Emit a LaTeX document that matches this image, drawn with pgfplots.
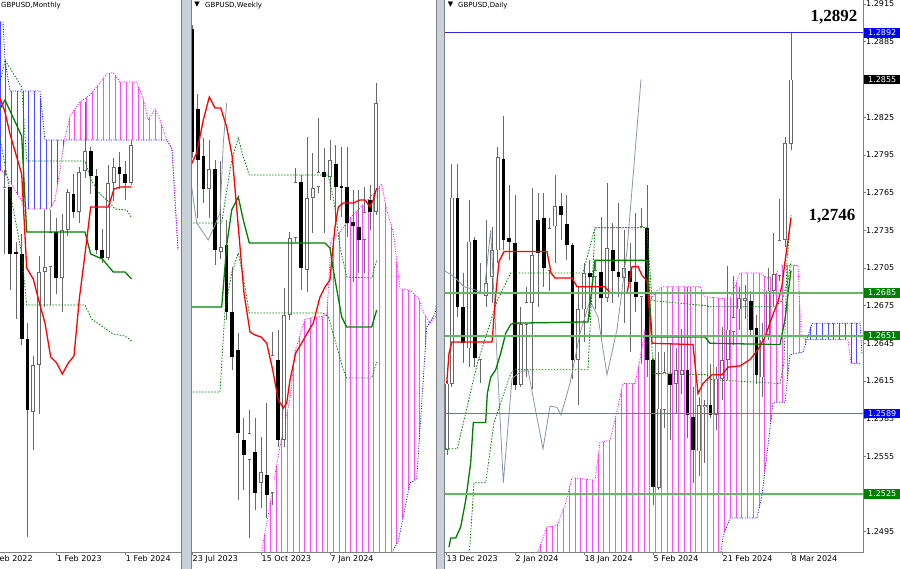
\documentclass[border=0pt]{standalone}
\usepackage{fontspec}
\setmainfont{DejaVu Sans}
\newfontfamily\timesfont{Liberation Serif}
\usepackage{pgfplots}
\pgfplotsset{compat=1.18}
\usepackage{pgfplotstable}
\usetikzlibrary{patterns.meta}

\definecolor{tenkan}{RGB}{255,0,0}
\definecolor{kijun}{RGB}{0,128,0}
\definecolor{chikou}{RGB}{138,150,168}
\definecolor{spanA}{RGB}{255,0,255}
\definecolor{spanB}{RGB}{0,0,255}
\definecolor{lvlgreen}{RGB}{100,185,100}
\definecolor{lvlblue}{RGB}{105,105,255}
\definecolor{hiline}{RGB}{40,40,215}
\definecolor{wickc}{RGB}{105,105,105}
\definecolor{gapcol}{RGB}{200,208,218}
\definecolor{framec}{RGB}{128,128,128}
\definecolor{boxgreen}{RGB}{0,128,0}
\definecolor{boxblue}{RGB}{0,0,255}

\newcommand\lbl{\fontsize{8}{9}\selectfont}
\newcommand\ttl{\fontsize{7}{8}\selectfont}

% monthly / weekly panels have no price scale: levels are in chart rows (0 = top)
\pgfplotstableread{
x o h l c
4.5 189 170 254 187
33.25 412 356 450 365
39 365 256 414 272
44.75 272 210 307 267
50.5 267 210 305 232
62 278 214 312 230
67.75 230 189 236 192
79.25 212 167 223 172
85 171 102 178 151
108 258 165 260 183
113.75 183 158 201 167
131 183 140 185 145
}\mbull
\pgfplotstableread{
x o h l c
10.25 187 187 290 254
16 252 242 319 254
21.75 254 234 345 339
27.5 339 323 537 410
56.25 232 218 294 278
73.5 194 174 218 212
90.75 151 147 194 176
96.5 176 169 254 250
102.25 250 229 263 258
119.5 167 152 189 174
125.25 174 161 200 183
}\mbear
\pgfplotstableread{
x o h l c
209.25 189 140 218 169
220.75 252 161 259 247
249.5 460 410 538 433
261 483 437 508 472
272.5 493 332 505 355
284 440 288 447 315
289.75 315 232 320 238
295.5 238 168 242 182
307 270 137 292 198
312.75 198 153 233 188
318.5 187 118 193 172
330 177 140 200 160
364.5 240 187 273 212
376 212 83 215 103
}\wbull
\pgfplotstableread{
x o h l c
192 29 25 158 152
197.75 109 94 218 160
203.5 156 138 203 189
215 169 160 265 250
226.5 245 220 320 312
232.25 312 267 370 357
238 350 333 500 433
243.75 440 418 490 455
255.25 452 418 510 493
266.75 475 403 518 495
278.25 360 330 447 440
301.25 182 175 290 268
324.25 172 148 233 177
335.75 164 145 227 187
341.5 186 147 217 187
347.25 187 147 237 223
353 222 190 282 226
358.75 227 190 273 240
370.25 200 185 230 212
}\wbear
% daily panel in GBPUSD prices
\pgfplotstableread{
x o h l c
447 1.2560 1.2616 1.2556 1.2613
451.75 1.2613 1.2788 1.2610 1.2761
469 1.2641 1.2759 1.2626 1.2726
480.5 1.2632 1.2709 1.2613 1.2685
486.25 1.2683 1.2743 1.2674 1.2693
492 1.2698 1.2738 1.2677 1.2719
497.75 1.2719 1.2801 1.2709 1.2793
520.75 1.2612 1.2674 1.2610 1.2660
526.5 1.2660 1.2690 1.2618 1.2678
532.25 1.2677 1.2769 1.2609 1.2715
549.5 1.2703 1.2745 1.2687 1.2737
555.25 1.2738 1.2779 1.2709 1.2754
578.25 1.2632 1.2691 1.2596 1.2672
584 1.2672 1.2709 1.2646 1.2701
595.5 1.2698 1.2710 1.2672 1.2703
607 1.2681 1.2773 1.2678 1.2721
624.25 1.2697 1.2735 1.2661 1.2705
641.5 1.2682 1.2753 1.2629 1.2738
658.75 1.2530 1.2638 1.2528 1.2593
664.5 1.2592 1.2638 1.2578 1.2622
676 1.2613 1.2641 1.2590 1.2624
681.75 1.2620 1.2656 1.2605 1.2624
699 1.2559 1.2602 1.2539 1.2596
704.75 1.2594 1.2600 1.2550 1.2596
716.25 1.2588 1.2626 1.2576 1.2617
722 1.2617 1.2658 1.2600 1.2632
727.75 1.2632 1.2707 1.2616 1.2656
733.5 1.2654 1.2699 1.2644 1.2666
739.25 1.2672 1.2690 1.2656 1.2681
745 1.2679 1.2691 1.2664 1.2681
762.25 1.2618 1.2661 1.2602 1.2648
768 1.2652 1.2705 1.2648 1.2687
773.75 1.2687 1.2733 1.2675 1.2700
779.5 1.2699 1.2760 1.2695 1.2727
785.25 1.2727 1.2809 1.2722 1.2804
791 1.2804 1.2892 1.2799 1.2855
}\dbull
\pgfplotstableread{
x o h l c
443.5 1.2560 1.2564 1.2483 1.2502
457.5 1.2761 1.2788 1.2666 1.2674
463.25 1.2674 1.2701 1.2629 1.2645
474.75 1.2727 1.2730 1.2626 1.2633
503.5 1.2792 1.2826 1.2719 1.2727
509.25 1.2729 1.2771 1.2711 1.2726
515 1.2725 1.2763 1.2608 1.2612
538 1.2743 1.2765 1.2674 1.2717
543.75 1.2745 1.2765 1.2690 1.2705
561 1.2754 1.2765 1.2727 1.2747
566.75 1.2740 1.2763 1.2711 1.2723
572.5 1.2723 1.2725 1.2617 1.2632
589.75 1.2701 1.2711 1.2666 1.2698
601.25 1.2702 1.2746 1.2649 1.2681
612.75 1.2719 1.2741 1.2677 1.2703
618.5 1.2702 1.2757 1.2682 1.2698
630 1.2703 1.2725 1.2638 1.2694
635.75 1.2694 1.2749 1.2670 1.2682
647.25 1.2737 1.2771 1.2618 1.2632
653 1.2632 1.2633 1.2516 1.2531
670.25 1.2621 1.2645 1.2568 1.2612
687.5 1.2624 1.2690 1.2570 1.2588
693.25 1.2586 1.2610 1.2534 1.2560
710.5 1.2596 1.2629 1.2586 1.2588
750.75 1.2679 1.2687 1.2652 1.2656
756.5 1.2657 1.2668 1.2613 1.2620
}\dbear

\pgfplotsset{
  panel/.style={scale only axis, axis line style={draw=none},
    tick pos=left, tick align=outside, major tick length=2.5pt,
    xtick style={draw=framec, line width=0.6pt},
    xticklabel style={font=\lbl, anchor=north west, inner sep=0pt, xshift=0.5pt, yshift=-0.5pt},
    ytick=\empty},
  wicks/.style={draw=none, mark=none, forget plot, error bars/.cd, y dir=both, y explicit,
    error mark=none, error bar style={draw=wickc, line width=0.9pt}},
  bodyblack/.style={draw=none, mark=none, forget plot, error bars/.cd, y dir=both, y explicit,
    error mark=none, error bar style={draw=black, line width=3.6pt}},
  bodyedge/.style={draw=none, mark=none, forget plot, error bars/.cd, y dir=both, y explicit,
    error mark=none, error bar style={draw=wickc, line width=3.8pt}},
  bodywhite/.style={draw=none, mark=none, forget plot, error bars/.cd, y dir=both, y explicit,
    error mark=none, error bar style={draw=white, line width=2.2pt}},
  tenkanline/.style={tenkan, line width=1.3pt, mark=none, forget plot},
  kijunline/.style={kijun, line width=1.3pt, mark=none, forget plot},
  chikouline/.style={chikou, line width=0.8pt, mark=none, forget plot},
  dotline/.style={kijun, line width=0.8pt, dash pattern=on 1.5pt off 1.5pt, mark=none, forget plot},
  spanAline/.style={spanA, line width=0.8pt, dash pattern=on 1pt off 1.5pt, mark=none, forget plot},
  spanBline/.style={spanB, line width=0.8pt, dash pattern=on 1pt off 1.5pt, mark=none, forget plot},
  cloudA/.style={draw=none, forget plot, pattern={Lines[angle=90,distance=5.75pt,line width=0.9pt]}, pattern color=spanA!70},
  cloudB/.style={draw=none, forget plot, pattern={Lines[angle=90,distance=5.75pt,line width=0.9pt]}, pattern color=spanB!70},
}

\begin{document}
\begin{tikzpicture}
\path[use as bounding box] (0,0) rectangle (900pt,-569pt);
\clip (0,0) rectangle (900pt,-569pt);
\fill[white] (0,0) rectangle (900pt,-569pt);
\fill[gapcol] (181pt,0) rectangle (191pt,-569pt);
\fill[gapcol] (436pt,0) rectangle (444pt,-569pt);

% ---------------- monthly ----------------
\begin{axis}[panel, at={(0pt,0pt)}, anchor=north west, width=181pt, height=552pt,
  xmin=0, xmax=181, ymin=0, ymax=552, y dir=reverse,
  xtick={56.25,125.25}, xticklabels={1 Feb 2023,1 Feb 2024}]
\addplot[cloudB] coordinates {(0,22) (3,22) (5,60) (10,91) (40,91) (45,140) (64.5,140) (60,170) (55,200) (50,209) (26.7,209) (5,174) (0,170)} -- cycle;
\addplot[cloudA] coordinates {(64.5,140) (70,116) (80,102) (90,95) (100,83) (106.7,74) (113,72.6) (120,82) (136.7,82) (143,98) (148,120) (155,109) (160,120) (166.7,140)} -- cycle;
\addplot[spanBline] coordinates {(0,22) (3,22) (5,60) (10,91) (40,91) (45,140) (167,140) (172,149) (178,250)};
\addplot[spanAline] coordinates {(0,170) (5,174) (26.7,209) (50,209) (55,200) (60,170) (64.5,140) (70,116) (80,102) (90,95) (100,83) (106.7,74) (113,72.6) (120,82) (136.7,82) (143,98) (148,120) (155,109) (160,120) (166.7,140) (172,149) (178,250)};
\addplot[wicks] table[x=x, y expr=(\thisrow{h}+\thisrow{l})/2, y error expr={abs(\thisrow{h}-\thisrow{l})/2}] {\mbull};
\addplot[wicks] table[x=x, y expr=(\thisrow{h}+\thisrow{l})/2, y error expr={abs(\thisrow{h}-\thisrow{l})/2}] {\mbear};
\addplot[bodyblack] table[x=x, y expr=(\thisrow{o}+\thisrow{c})/2, y error expr={max(abs(\thisrow{o}-\thisrow{c})/2,0.5)}] {\mbear};
\addplot[bodyedge] table[x=x, y expr=(\thisrow{o}+\thisrow{c})/2, y error expr={max(abs(\thisrow{o}-\thisrow{c})/2,0.5)}] {\mbull};
\addplot[bodywhite] table[x=x, y expr=(\thisrow{o}+\thisrow{c})/2, y error expr={max(abs(\thisrow{o}-\thisrow{c})/2-0.8,0)}] {\mbull};
\addplot[dotline] coordinates {(0,83) (5,60) (21.7,87) (26.7,161) (85,161) (91,180) (100,194) (110,203) (115,209) (126.7,210) (131.7,218)};
\addplot[dotline] coordinates {(0,138) (21.7,254) (26.7,305) (85,305) (91.7,319) (103,327) (113,334) (125,336) (131.7,341)};
\addplot[kijunline] coordinates {(0,109) (5,100) (21.7,136) (26.7,232) (85,232) (90.7,254) (102.3,259) (113.3,272) (125,272) (131.7,279)};
\addplot[tenkanline] coordinates {(0,98) (5,112) (10,134) (21.7,174) (26.7,268) (33.3,279) (40,305) (45,323) (50.7,357) (56.7,363) (62.3,374) (68.3,363) (74,356) (79.3,299) (85,254) (90.7,207) (108.3,207) (114,189) (120,187) (131.7,187)};
\end{axis}

% ---------------- weekly ----------------
\begin{axis}[panel, at={(191pt,0pt)}, anchor=north west, width=245pt, height=552pt,
  xmin=191, xmax=436, ymin=0, ymax=552, y dir=reverse,
  xtick={192,261,330}, xticklabels={23 Jul 2023,15 Oct 2023,7 Jan 2024}]
\addplot[cloudA] coordinates {(258,560) (261.7,551.5) (270,504) (280,446) (290,399) (295,352) (305,319) (323.3,316) (327,314) (331,240) (340,232) (350,218) (366.7,201) (376.7,190) (381.7,184) (386.7,210) (393.3,232) (400,289) (410,290) (418.3,298) (423.3,312) (430,323) (435,314) (426.7,327) (416.7,479) (410,483) (398.3,541) (393.3,550) (391,560)} -- cycle;
\addplot[spanAline] coordinates {(258,560) (261.7,551.5) (270,504) (280,446) (290,399) (295,352) (305,319) (323.3,316) (327,314) (331,240) (340,232) (350,218) (366.7,201) (376.7,190) (381.7,184) (386.7,210) (393.3,232) (400,289) (410,290) (418.3,298) (423.3,312) (430,323) (436,316)};
\addplot[spanBline] coordinates {(391,560) (393.3,550) (398.3,541) (410,483) (416.7,479) (426.7,327) (435,314) (437,300)};
\addplot[wicks] table[x=x, y expr=(\thisrow{h}+\thisrow{l})/2, y error expr={abs(\thisrow{h}-\thisrow{l})/2}] {\wbull};
\addplot[wicks] table[x=x, y expr=(\thisrow{h}+\thisrow{l})/2, y error expr={abs(\thisrow{h}-\thisrow{l})/2}] {\wbear};
\addplot[bodyblack] table[x=x, y expr=(\thisrow{o}+\thisrow{c})/2, y error expr={max(abs(\thisrow{o}-\thisrow{c})/2,0.5)}] {\wbear};
\addplot[bodyedge] table[x=x, y expr=(\thisrow{o}+\thisrow{c})/2, y error expr={max(abs(\thisrow{o}-\thisrow{c})/2,0.5)}] {\wbull};
\addplot[bodywhite] table[x=x, y expr=(\thisrow{o}+\thisrow{c})/2, y error expr={max(abs(\thisrow{o}-\thisrow{c})/2-0.8,0)}] {\wbull};
\addplot[chikouline] coordinates {(191.7,187) (196.7,223) (208.3,240) (215,225) (220,213) (223.3,143) (226.7,103)};
\addplot[dotline] coordinates {(190,223) (221.7,223) (226,195) (231.7,160) (238.3,138) (243.3,157) (249.3,175) (328,175) (333.3,197) (340,247) (346.7,277) (371.7,278) (376.7,260)};
\addplot[dotline] coordinates {(190,392) (220,392) (225,310) (231.7,273) (238.3,253) (243.3,277) (249.3,313) (323,313) (328.3,317) (335,340) (343.3,370) (346.7,378) (371.7,378) (376.7,362)};
\addplot[kijunline] coordinates {(190,307) (221.7,307) (226.7,245) (231.7,210) (238.3,197) (243.3,220) (249.3,243) (325,243) (330,248) (333.3,270) (341.7,317) (346.7,327) (371.7,327) (376.7,310)};
\addplot[tenkanline] coordinates {(190,167) (196.7,153) (203.3,120) (209.3,97) (215,108) (220.7,108) (226.7,127) (232.3,157) (238.3,227) (244,293) (250,332) (255,335) (261,337) (266.7,343) (272.7,370) (278.3,400) (283.3,408) (286.7,403) (290,380) (295.7,353) (301.7,343) (307.3,333) (313.3,323) (320,297) (325,287) (330,280) (331.7,260) (335,227) (338.3,207) (343.3,203) (353.3,203) (360,200) (365,200) (370,207) (373.3,200) (376.7,188)};
\end{axis}

% ---------------- daily ----------------
\begin{axis}[panel, at={(444pt,0pt)}, anchor=north west, width=419pt, height=552pt,
  xmin=444, xmax=863, ymin=1.24789, ymax=1.29182,
  xtick={446,515,584,653,722,791},
  xticklabels={13 Dec 2023,2 Jan 2024,18 Jan 2024,5 Feb 2024,21 Feb 2024,8 Mar 2024},
  ytick={1.2495,1.2525,1.2555,1.2585,1.2615,1.2645,1.2675,1.2705,1.2735,1.2765,1.2795,1.2825,1.2855,1.2885,1.2915},
  yticklabels={1.2495,,1.2555,1.2585,1.2615,1.2645,1.2675,1.2705,1.2735,1.2765,1.2795,1.2825,,1.2885,1.2915},
  ytick pos=right, yticklabel pos=right, ytick style={draw=framec, line width=0.6pt},
  yticklabel style={font=\lbl, anchor=west, inner sep=0pt, xshift=0.5pt}]
\addplot[cloudA] coordinates {(536,1.2473) (538,1.2479) (547,1.2499) (557,1.2500) (565,1.2516) (572,1.2538) (595,1.2536) (600,1.2566) (610,1.2568) (615,1.2584) (623,1.2613) (635,1.2613) (640,1.2632) (645,1.2656) (650,1.2679) (657,1.2687) (663,1.2690) (700,1.2690) (705,1.2682) (730,1.2680) (740,1.2701) (760,1.2701) (767,1.2697) (775,1.2699) (782,1.2707) (798,1.2707) (801,1.2652) (806.5,1.2648) (803,1.2638) (790,1.2636) (785,1.2598) (773,1.2598) (767,1.2557) (762,1.2524) (757,1.2506) (730,1.2506) (723,1.2491) (720,1.2473)} -- cycle;
\addplot[cloudB] coordinates {(806.5,1.2648) (812,1.2661) (860,1.2661) (862,1.2636) (861,1.2629) (851,1.2629) (848,1.2648)} -- cycle;
\addplot[spanAline] coordinates {(536,1.2473) (538,1.2479) (547,1.2499) (557,1.2500) (565,1.2516) (572,1.2538) (595,1.2536) (600,1.2566) (610,1.2568) (615,1.2584) (623,1.2613) (635,1.2613) (640,1.2632) (645,1.2656) (650,1.2679) (657,1.2687) (663,1.2690) (700,1.2690) (705,1.2682) (730,1.2680) (740,1.2701) (760,1.2701) (767,1.2697) (775,1.2699) (782,1.2707) (798,1.2707) (801,1.2652) (805,1.2648) (848,1.2648) (851,1.2629) (861,1.2629)};
\addplot[spanBline] coordinates {(720,1.2473) (723,1.2491) (730,1.2506) (757,1.2506) (762,1.2524) (767,1.2557) (773,1.2598) (785,1.2598) (790,1.2636) (803,1.2638) (812,1.2661) (860,1.2661) (862,1.2636)};
\addplot[wicks] table[x=x, y expr=(\thisrow{h}+\thisrow{l})/2, y error expr={abs(\thisrow{h}-\thisrow{l})/2}] {\dbull};
\addplot[wicks] table[x=x, y expr=(\thisrow{h}+\thisrow{l})/2, y error expr={abs(\thisrow{h}-\thisrow{l})/2}] {\dbear};
\addplot[bodyblack] table[x=x, y expr=(\thisrow{o}+\thisrow{c})/2, y error expr={max(abs(\thisrow{o}-\thisrow{c})/2,0.00004)}] {\dbear};
\addplot[bodyedge] table[x=x, y expr=(\thisrow{o}+\thisrow{c})/2, y error expr={max(abs(\thisrow{o}-\thisrow{c})/2,0.00004)}] {\dbull};
\addplot[bodywhite] table[x=x, y expr=(\thisrow{o}+\thisrow{c})/2, y error expr={max(abs(\thisrow{o}-\thisrow{c})/2-0.000064,0)}] {\dbull};
\addplot[chikouline] coordinates {(444,1.2703) (454,1.2698) (464,1.2690) (477,1.2687) (484,1.2685) (490.7,1.2735) (503.3,1.2534) (512,1.2617) (520,1.2622) (528,1.2624) (535,1.2594) (543,1.2561) (550,1.2595) (557,1.2594) (561,1.2588) (570,1.2613) (580,1.2653) (590,1.2679) (598,1.2666) (607,1.2620) (617,1.2656) (627,1.2719) (641,1.2855)};
\addplot[dotline] coordinates {(445.7,1.2561) (457.3,1.2561) (477.3,1.2629) (497.3,1.2679) (510.7,1.2701) (583,1.2701) (595,1.2737) (647,1.2737) (653,1.2621) (707,1.2620) (712,1.2616) (780,1.2613) (784,1.2629) (787,1.2711) (791,1.2747)};
\addplot[dotline] coordinates {(469,1.2473) (474,1.2534) (485.7,1.2534) (494,1.2582) (510.7,1.2621) (514,1.2624) (588,1.2624) (595,1.2737) (647,1.2737) (652,1.2679) (705,1.2675) (710,1.2674) (775,1.2674) (782,1.2679) (788,1.2695) (791,1.2710)};
\addplot[kijunline] coordinates {(449,1.2483) (450.7,1.2490) (455.7,1.2490) (460.7,1.2499) (465.7,1.2520) (470.7,1.2550) (473.3,1.2582) (485.7,1.2582) (487.3,1.2605) (490.7,1.2618) (495.7,1.2624) (500.7,1.2637) (505.7,1.2653) (510.7,1.2660) (514,1.2661) (588,1.2662) (595,1.2711) (647,1.2711) (652,1.2650) (705,1.2650) (710,1.2645) (780,1.2644) (785,1.2664) (788.3,1.2686) (791,1.2703)};
\addplot[tenkanline] coordinates {(446.7,1.2613) (449,1.2637) (452,1.2646) (492,1.2646) (495.7,1.2683) (499,1.2710) (504,1.2718) (547,1.2718) (551,1.2701) (555,1.2697) (572,1.2697) (577,1.2690) (605,1.2690) (610,1.2685) (627,1.2685) (632,1.2706) (638,1.2706) (642,1.2699) (647,1.2695) (652,1.2645) (693,1.2644) (698,1.2605) (703,1.2613) (712,1.2620) (722,1.2620) (728,1.2626) (740,1.2627) (750,1.2632) (758,1.2640) (765,1.2650) (773,1.2668) (778,1.2678) (782,1.2691) (785,1.2710) (788,1.2727) (791,1.2745)};
% horizontal levels
\addplot[hiline, line width=0.9pt, forget plot] coordinates {(444,1.2892) (863,1.2892)};
\addplot[lvlgreen, line width=1.6pt, forget plot] coordinates {(444,1.2685) (863,1.2685)};
\addplot[lvlgreen, line width=1.6pt, forget plot] coordinates {(444,1.2651) (863,1.2651)};
\addplot[lvlblue, line width=1.6pt, forget plot] coordinates {(444,1.2589) (863,1.2589)};
\addplot[lvlgreen, line width=1.6pt, forget plot] coordinates {(444,1.2525) (863,1.2525)};
\coordinate (b1) at (axis cs:863,1.2892);
\coordinate (b2) at (axis cs:863,1.2855);
\coordinate (b3) at (axis cs:863,1.2685);
\coordinate (b4) at (axis cs:863,1.2651);
\coordinate (b5) at (axis cs:863,1.2589);
\coordinate (b6) at (axis cs:863,1.2525);
\coordinate (t2) at (axis cs:832,1.2746);
\end{axis}

% frames
\draw[framec, line width=0.8pt] (0,-552pt) -- (181pt,-552pt);
\draw[framec, line width=0.8pt] (191pt,-552pt) -- (436pt,-552pt);
\draw[framec, line width=0.8pt] (444pt,-552pt) -- (863pt,-552pt) -- (863pt,0);
\draw[framec, line width=1pt] (181pt,0) -- (181pt,-569pt);
\draw[framec, line width=1pt] (191pt,0) -- (191pt,-569pt);
\draw[framec, line width=1pt] (436pt,0) -- (436pt,-569pt);
\draw[framec, line width=1pt] (444pt,0) -- (444pt,-569pt);
\node[font=\lbl, anchor=north west, inner sep=0pt] at (-12.25pt,-555pt) {1 Feb 2022};

% titles
\node[font=\ttl, anchor=west, inner sep=0pt] at (1pt,-5.5pt) {GBPUSD,Monthly};
\node[font=\ttl, inner sep=0pt] at (197pt,-5pt) {▼};
\node[font=\ttl, anchor=west, inner sep=0pt] at (205pt,-5.5pt) {GBPUSD,Weekly};
\node[font=\ttl, inner sep=0pt] at (450.5pt,-5pt) {▼};
\node[font=\ttl, anchor=west, inner sep=0pt] at (458pt,-5.5pt) {GBPUSD,Daily};

% price boxes
\tikzset{pbox/.style={anchor=west, inner sep=0pt, minimum width=36pt, minimum height=9.5pt, text=white, font=\lbl, xshift=1pt}}
\node[pbox, fill=boxblue] at (b1) {1.2892};
\node[pbox, fill=black] at (b2) {1.2855};
\node[pbox, fill=boxgreen] at (b3) {1.2685};
\node[pbox, fill=boxgreen] at (b4) {1.2651};
\node[pbox, fill=boxblue] at (b5) {1.2589};
\node[pbox, fill=boxgreen] at (b6) {1.2525};

\node[font=\timesfont\bfseries\fontsize{17}{17}\selectfont, inner sep=0pt] at (834pt,-17pt) {1,2892};
\node[font=\timesfont\bfseries\fontsize{17}{17}\selectfont, inner sep=0pt] at (t2) {1,2746};
\end{tikzpicture}
\end{document}
